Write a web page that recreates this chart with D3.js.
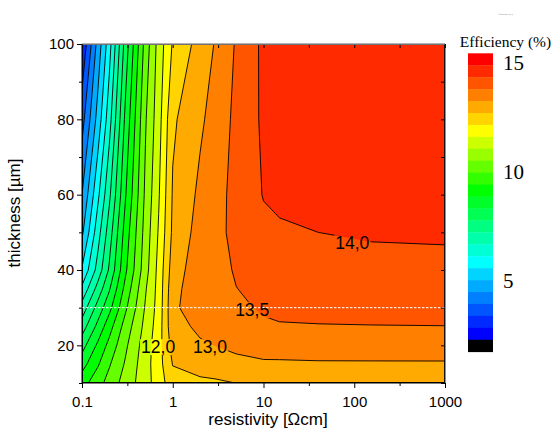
<!DOCTYPE html>
<html>
<head>
<meta charset="utf-8">
<script src="https://cdn.jsdelivr.net/npm/d3@7"></script>
<style>
body{margin:0;background:#fff}
svg{display:block}
</style>
</head>
<body>
<script>
// simulation grid: columns = resistivity [Ohm cm], rows = thickness [um]
const resistivity = [0.1, 0.15, 0.2, 0.3, 0.5, 0.7, 1, 2, 3, 5, 10, 15, 40, 150, 1000];
const thickness = [10, 15, 20, 25, 30, 35, 40, 50, 60, 80, 100];
// efficiency [%], one row per thickness (bottom to top)
const eff10  = [9.3, 9.8, 10.2, 10.7, 11.3, 11.75, 12.3, 12.4, 12.42, 12.505, 12.62, 12.66, 12.7, 12.72, 12.72];
const eff15  = [8.8, 9.45, 9.95, 10.55, 11.3, 11.8, 12.52, 12.7, 12.8, 12.88, 12.95, 12.95, 12.96, 12.96, 12.96];
const eff20  = [8.3, 9.1, 9.65, 10.4, 11.25, 11.8, 12.7, 12.95, 13.01, 13.1, 13.15, 13.16, 13.18, 13.19, 13.2];
const eff25  = [7.75, 8.65, 9.3, 10.2, 11.15, 11.75, 12.85, 13.08, 13.15, 13.25, 13.44, 13.46, 13.47, 13.48, 13.49];
const eff30  = [7.2, 8.2, 8.85, 9.9, 11.05, 11.7, 12.9, 13.3, 13.3, 13.42, 13.55, 13.62, 13.68, 13.72, 13.74];
const eff35  = [6.6, 7.7, 8.45, 9.65, 10.95, 11.68, 12.85, 13.3, 13.3, 13.49, 13.65, 13.7, 13.77, 13.8, 13.82];
const eff40  = [6.05, 7.2, 8.07, 9.4, 10.8, 11.66, 12.75, 13.3, 13.28, 13.56, 13.72, 13.78, 13.85, 13.88, 13.9];
const eff50  = [5.4, 6.8, 7.75, 9.2, 10.7, 11.55, 12.6, 13.2, 13.32, 13.68, 13.9, 13.95, 14.0, 14.04, 14.05];
const eff60  = [5.0, 6.4, 7.4, 8.95, 10.6, 11.45, 12.55, 13.1, 13.3, 13.68, 14.02, 14.08, 14.15, 14.2, 14.22];
const eff80  = [4.3, 5.7, 6.8, 8.6, 10.45, 11.3, 12.42, 12.92, 13.2, 13.62, 14.08, 14.2, 14.3, 14.35, 14.36];
const eff100 = [3.55, 5.2, 6.3, 8.2, 10.2, 11.2, 12.05, 12.7, 13.05, 13.55, 14.1, 14.25, 14.35, 14.4, 14.4];

// color levels, top (15) to bottom
const levelStep = 0.5;
const levelTop = 15;
const legendColors = ["#ff0000","#ff2a00","#ff5500","#ff8000","#ffaa00","#ffd400","#ffff00",
  "#ccff00","#99ff00","#66ff00","#33ff00","#00ff00","#00ff2a","#00ff55","#00ff80","#00ffaa",
  "#00ffd4","#00ffff","#00d4ff","#00aaff","#0080ff","#0055ff","#002aff","#0000ff","#000000"];
const legendTicks = [15, 10, 5];

const xTicks = [0.1, 1, 10, 100, 1000];
const xMinor = [0.316, 3.16, 31.6, 316];
const yTicks = [20, 40, 60, 80, 100];
const yMinor = [10, 30, 50, 70, 90];

const contourLabels = [
  {text: "14,0", r: 95, t: 47.2},
  {text: "13,5", r: 7.5, t: 29.4},
  {text: "13,0", r: 2.57, t: 19.6},
  {text: "12,0", r: 0.69, t: 19.6}
];
const cutThickness = 30;

//--------------------------------------------------
const W = 554, H = 428;
const svg = d3.select("body").append("svg").attr("width", W).attr("height", H);

const x = d3.scaleLog().domain([0.1, 1000]).range([82, 445]);
const y = d3.scaleLinear().domain([10, 100]).range([383, 44]);

const nx = resistivity.length, ny = thickness.length;
const values = [eff10, eff15, eff20, eff25, eff30, eff35, eff40, eff50, eff60, eff80, eff100].flat();

// grid index -> data coordinate
const colLog = d3.scaleLinear().domain(d3.range(nx)).range(resistivity.map(Math.log10)).clamp(true);
const rowT = d3.scaleLinear().domain(d3.range(ny)).range(thickness).clamp(true);
const px = c => x(Math.pow(10, colLog(c - 0.5)));
const py = c => y(rowT(c - 0.5));

const path = d3.geoPath(d3.geoTransform({
  point: function(a, b){ this.stream.point(px(a), py(b)); }
}));

const thresholds = d3.range(3, levelTop, levelStep);
const bandColor = v => legendColors[Math.round((levelTop - levelStep - v) / levelStep)];
const contours = d3.contours().size([nx, ny]).thresholds(thresholds)(values);

const defs = svg.append("defs");
defs.append("clipPath").attr("id", "plotclip").append("rect")
  .attr("x", 82).attr("y", 44).attr("width", 363).attr("height", 339);
const mask = defs.append("mask").attr("id", "gaps");
mask.append("rect").attr("x", 0).attr("y", 0).attr("width", W).attr("height", H).attr("fill", "white");

const plot = svg.append("g").attr("clip-path", "url(#plotclip)");
plot.append("g").selectAll("path").data(contours).join("path")
  .attr("d", path)
  .attr("fill", d => bandColor(d.value))
  .attr("stroke", d => bandColor(d.value))
  .attr("stroke-width", 0.3);

plot.append("g").attr("mask", "url(#gaps)").selectAll("path").data(contours).join("path")
  .attr("d", path)
  .attr("fill", "none")
  .attr("stroke", "#000")
  .attr("stroke-width", 0.9)
  .attr("stroke-linejoin", "round");

// white dashed cut line
plot.append("line")
  .attr("x1", x(0.1)).attr("x2", x(1000))
  .attr("y1", y(cutThickness)).attr("y2", y(cutThickness))
  .attr("stroke", "#fff").attr("stroke-width", 1).attr("stroke-dasharray", "2.5,1.5");

// contour labels
const font = "Liberation Sans, Arial, sans-serif";
const lab = svg.append("g").selectAll("text").data(contourLabels).join("text")
  .attr("x", d => x(d.r)).attr("y", d => y(d.t))
  .attr("text-anchor", "middle").attr("dy", "0.36em")
  .attr("font-family", font).attr("font-size", 17.5)
  .attr("fill", "#000")
  .text(d => d.text);
lab.each(function(){
  const b = this.getBBox();
  mask.append("rect").attr("x", b.x - 1).attr("y", b.y + 2).attr("width", b.width + 2).attr("height", b.height - 4).attr("fill", "black");
});

// axes
function styleAxis(g, labels){
  g.select(".domain").remove();
  g.selectAll(".tick line").attr("stroke", "#000");
  g.selectAll("text").attr("font-family", font).attr("font-size", 15).attr("fill", "#000");
  if(!labels) g.selectAll("text").remove();
}
svg.append("g").attr("transform", "translate(0,383)")
  .call(d3.axisBottom(x).tickValues(xTicks).tickFormat(d3.format("~g")).tickSize(5).tickPadding(8))
  .call(g => styleAxis(g, true));
svg.append("g").attr("transform", "translate(0,383)")
  .call(d3.axisBottom(x).tickValues(xMinor).tickSize(3))
  .call(g => styleAxis(g, false));
svg.append("g").attr("transform", "translate(82,0)")
  .call(d3.axisLeft(y).tickValues(yTicks).tickSize(5).tickPadding(3))
  .call(g => styleAxis(g, true));
svg.append("g").attr("transform", "translate(82,0)")
  .call(d3.axisLeft(y).tickValues(yMinor).tickSize(3))
  .call(g => styleAxis(g, false));
svg.append("g").attr("transform", "translate(0,44)")
  .call(d3.axisTop(x).tickValues(xTicks.concat(xMinor)).tickSize(-4))
  .call(g => styleAxis(g, false));
svg.append("g").attr("transform", "translate(445,0)")
  .call(d3.axisRight(y).tickValues(yTicks.concat(yMinor)).tickSize(-4))
  .call(g => styleAxis(g, false));

// frame
svg.append("line").attr("x1", 82).attr("x2", 445).attr("y1", 44).attr("y2", 44).attr("stroke", "#999").attr("stroke-width", 1.5);
svg.append("line").attr("x1", 445).attr("x2", 445).attr("y1", 44).attr("y2", 383).attr("stroke", "#222").attr("stroke-width", 1);
svg.append("line").attr("x1", 82).attr("x2", 82).attr("y1", 44).attr("y2", 383).attr("stroke", "#000").attr("stroke-width", 1);
svg.append("line").attr("x1", 82).attr("x2", 445).attr("y1", 383).attr("y2", 383).attr("stroke", "#000").attr("stroke-width", 1);

// axis titles
svg.append("text").attr("x", 268).attr("y", 425).attr("text-anchor", "middle")
  .attr("font-family", font).attr("font-size", 17).text("resistivity [Ωcm]");
svg.append("text").attr("transform", "translate(20,213) rotate(-90)").attr("text-anchor", "middle")
  .attr("font-family", font).attr("font-size", 17).text("thickness [µm]");

// color scale legend
const lg = svg.append("g");
const band = d3.scaleBand().domain(d3.range(legendColors.length)).range([53.3, 351.7]);
lg.selectAll("rect").data(legendColors).join("rect")
  .attr("x", 468).attr("y", (d, i) => band(i))
  .attr("width", 25).attr("height", band.bandwidth() + 0.4)
  .attr("fill", d => d);
const ly = d3.scaleLinear().domain([15, 5]).range([63, 281]);
lg.selectAll("text.tk").data(legendTicks).join("text").attr("class", "tk")
  .attr("x", 503).attr("y", d => ly(d)).attr("dy", "0.35em")
  .attr("font-family", "Liberation Serif, Times New Roman, serif").attr("font-size", 21)
  .text(d => d);
lg.append("text").attr("x", 505.5).attr("y", 47).attr("text-anchor", "middle")
  .attr("font-family", "Liberation Serif, Times New Roman, serif").attr("font-size", 15.5)
  .text("Efficiency (%)");
lg.append("text").attr("x", 505.5).attr("y", 15).attr("text-anchor", "middle")
  .attr("font-family", "Liberation Serif, Times New Roman, serif").attr("font-size", 2.5)
  .attr("fill", "#666").text("Efficiency (%)");
</script>
</body>
</html>
